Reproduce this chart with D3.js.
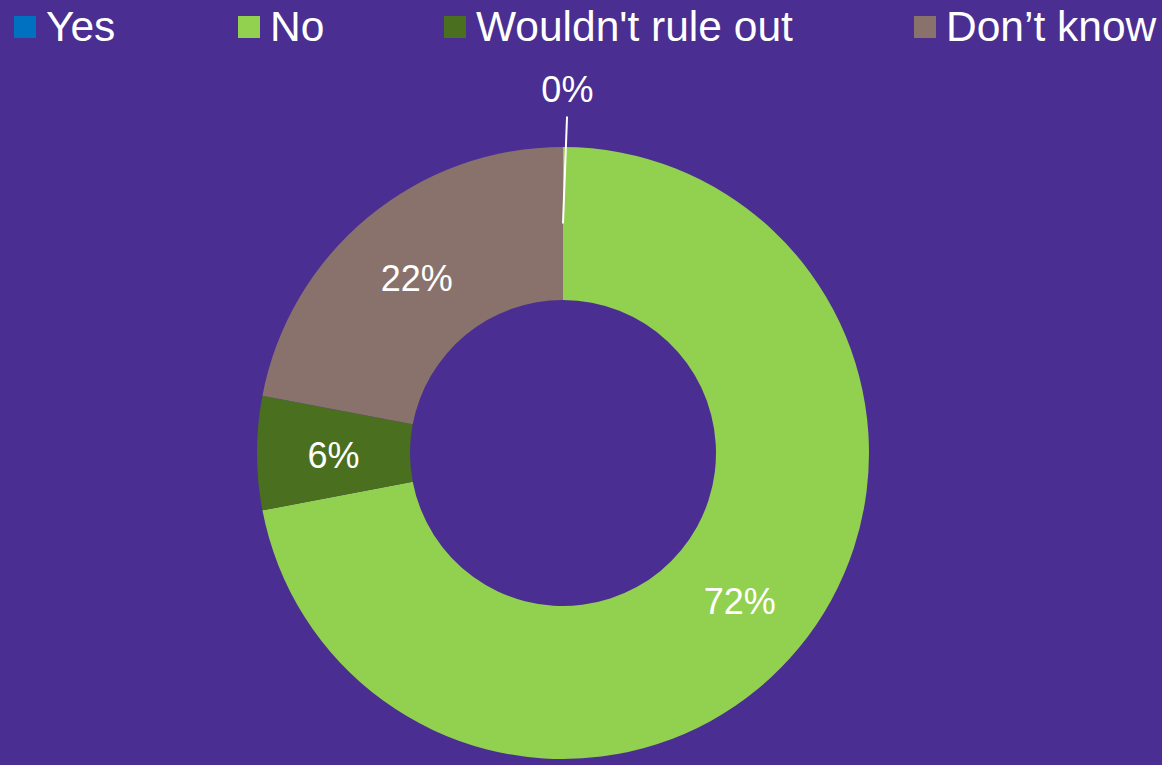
<!DOCTYPE html>
<html><head><meta charset="utf-8">
<script src="https://cdn.jsdelivr.net/npm/d3@7"></script>
<style>html,body{margin:0;padding:0;background:#4A2E91;}svg{display:block;}</style>
</head><body>
<svg id="c" width="1162" height="765"></svg>
<script>
const categories = ["Yes", "No", "Wouldn't rule out", "Don\u2019t know"];
const values = [0, 72, 6, 22];
const colors = ["#0070C0", "#92D050", "#4A6F1F", "#89726C"];
const legendX = [14, 238, 444, 914];

const W = 1162, H = 765;
const svg = d3.select("#c");
svg.append("rect").attr("width", W).attr("height", H).attr("fill", "#4A2E91");

const font = "'Liberation Sans', Arial, sans-serif";
const cx = 563, cy = 453, R = 306, r0 = 153;
const data = categories.map((c, i) => ({cat: c, v: values[i], color: colors[i]}));
const pie = d3.pie().sort(null).value(d => d.v);
const arcs = pie(data);
const arc = d3.arc().innerRadius(r0).outerRadius(R);
const labelArc = d3.arc().innerRadius((R + r0) / 2).outerRadius((R + r0) / 2);

const g = svg.append("g").attr("transform", `translate(${cx},${cy})`);
g.selectAll("path").data(arcs).join("path")
  .attr("d", arc).attr("fill", d => d.data.color);

const total = d3.sum(values);
const fmt = v => Math.round(v / total * 100) + "%";

arcs.forEach(a => {
  if (a.data.v / total >= 0.02) {
    const [x, y] = labelArc.centroid(a);
    g.append("text").attr("x", x).attr("y", y + 2).attr("dy", "0.35em")
      .attr("text-anchor", "middle").attr("fill", "#fff")
      .attr("font-family", font).attr("font-size", 36).text(fmt(a.data.v));
  } else {
    // small slice: label outside with leader line
    const [x1, y1] = labelArc.centroid(a);
    const ang = (a.startAngle + a.endAngle) / 2 + 0.012;
    const rl = R * 1.10, rt = R * 1.19;
    const x2 = Math.sin(ang) * rl, y2 = -Math.cos(ang) * rl;
    g.append("line").attr("x1", x1).attr("y1", y1).attr("x2", x2).attr("y2", y2)
      .attr("stroke", "#fff").attr("stroke-width", 2);
    g.append("text").attr("x", Math.sin(ang) * rt).attr("y", -Math.cos(ang) * rt).attr("dy", "0.35em")
      .attr("text-anchor", "middle").attr("fill", "#fff")
      .attr("font-family", font).attr("font-size", 36).text(fmt(a.data.v));
  }
});

const lg = svg.append("g");
data.forEach((d, i) => {
  lg.append("rect").attr("x", legendX[i]).attr("y", 16).attr("width", 22).attr("height", 22).attr("fill", d.color);
  lg.append("text").attr("x", legendX[i] + 32).attr("y", 41).attr("fill", "#fff")
    .attr("font-family", font).attr("font-size", 42.5).text(d.cat);
});
</script>
</body></html>
